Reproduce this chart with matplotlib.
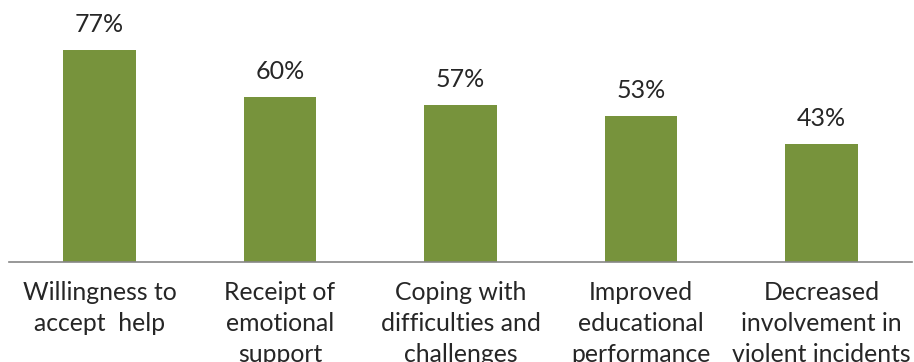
import matplotlib
matplotlib.use("Agg")
import matplotlib.pyplot as plt

categories = [
    "Willingness to\naccept  help",
    "Receipt of\nemotional\nsupport",
    "Coping with\ndifficulties and\nchallenges",
    "Improved\neducational\nperformance",
    "Decreased\ninvolvement in\nviolent incidents",
]
percentages = [77, 60, 57, 53, 43]

bar_color = "#77933C"
text_color = "#262626"

plt.rcParams["font.family"] = ["Lato", "DejaVu Sans"]

fig = plt.figure(figsize=(9.14, 3.62), dpi=100)
ax = fig.add_axes([9.25 / 914, 100 / 362, 902.5 / 914, 247.5 / 362])

positions = range(len(categories))
bars = ax.bar(positions, percentages, width=0.404, color=bar_color, zorder=2)

for rect, value in zip(bars, percentages):
    ax.annotate(f"{value}%", (rect.get_x() + rect.get_width() / 2, value),
                xytext=(0, 10), textcoords="offset points",
                ha="center", va="bottom", fontsize=18, color=text_color)

ax.set_xlim(-0.5, len(categories) - 0.5)
ax.set_ylim(0, 90)
ax.set_xticks(list(positions))
ax.set_xticklabels(categories, fontsize=17.8, color=text_color, linespacing=1.4)
ax.tick_params(axis="x", length=0, pad=14)
ax.set_yticks([])

for side in ["top", "left", "right"]:
    ax.spines[side].set_visible(False)
ax.spines["bottom"].set_color("#868686")
ax.spines["bottom"].set_linewidth(1.2)

fig.savefig("out.png", dpi=100)
